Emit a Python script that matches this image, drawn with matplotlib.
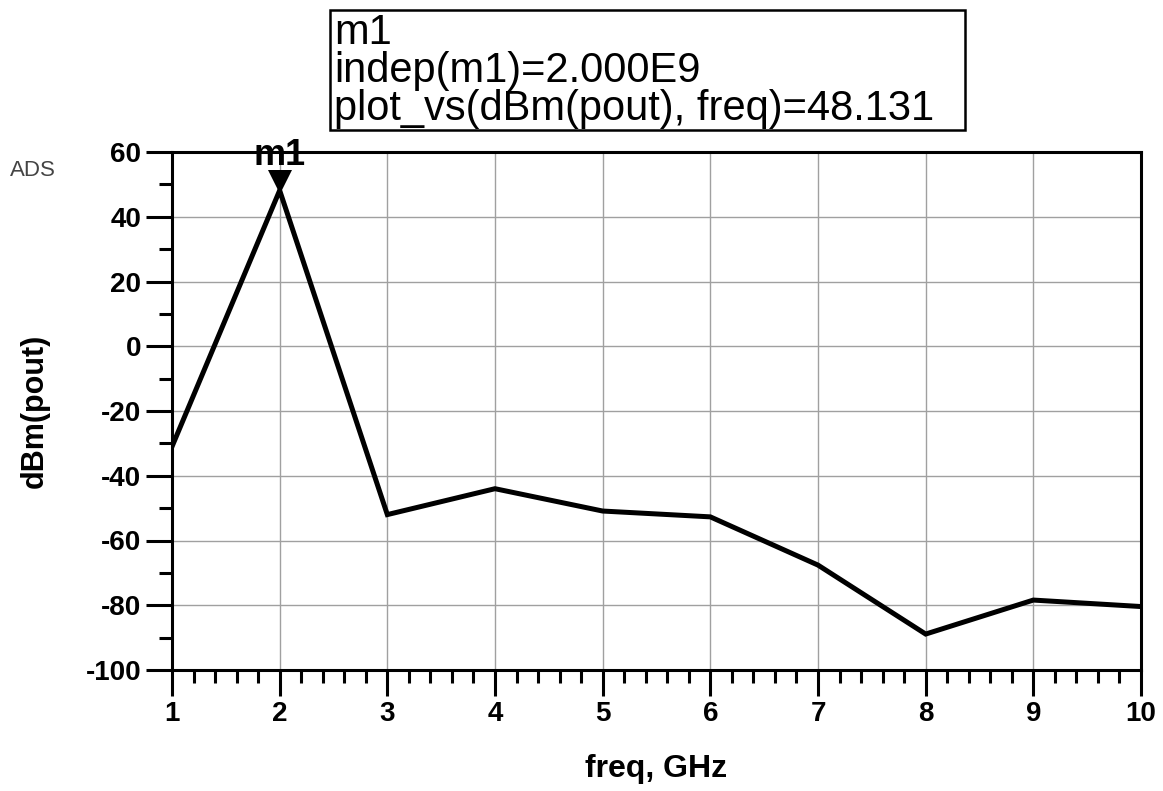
import matplotlib.pyplot as plt
from matplotlib.patches import Rectangle
from matplotlib.ticker import MultipleLocator
from matplotlib.transforms import offset_copy

plt.rcParams['font.family'] = ['Liberation Sans', 'DejaVu Sans']
plt.rcParams['axes.unicode_minus'] = False

# data
freq = [1, 2, 3, 4, 5, 6, 7, 8, 9, 10]
pout_dbm = [-31.0, 48.131, -52.0, -44.0, -50.9, -52.7, -67.6, -88.9, -78.4, -80.4]
marker_freq = 2
marker_val = 48.131
marker_lines = ['m1', 'indep(m1)=2.000E9', 'plot_vs(dBm(pout), freq)=48.131']

W, H = 1163, 791
fig = plt.figure(figsize=(W / 100, H / 100), dpi=100)
ax = fig.add_axes([172 / W, 1 - 670 / H, (1141 - 172) / W, (670 - 152) / H])

ax.plot(freq, pout_dbm, color='black', lw=3.6, solid_joinstyle='miter')
ax.set_xlim(1, 10)
ax.set_ylim(-100, 60)

ax.xaxis.set_major_locator(MultipleLocator(1))
ax.xaxis.set_minor_locator(MultipleLocator(0.2))
ax.yaxis.set_major_locator(MultipleLocator(20))
ax.yaxis.set_minor_locator(MultipleLocator(10))
ax.tick_params(which='major', direction='out', length=19, width=2.2, labelsize=20, pad=3)
ax.tick_params(which='minor', direction='out', length=9.5, width=2.2)
for lab in ax.get_xticklabels() + ax.get_yticklabels():
    lab.set_fontweight('bold')
for s in ax.spines.values():
    s.set_linewidth(2.2)
ax.grid(True, which='major', color='#a0a0a0', lw=1.0)

# marker m1 (tip of the triangle sits on the point)
mk_trans = offset_copy(ax.transData, fig=fig, y=8, units='dots')
ax.plot(marker_freq, marker_val, marker='v', ms=17, color='black', clip_on=False,
        markeredgewidth=0, transform=mk_trans)
ax.annotate('m1', (marker_freq, marker_val), xytext=(0, 18), textcoords='offset points',
            ha='center', va='baseline', fontsize=26, fontweight='bold',
            annotation_clip=False)

ax.set_xlabel('freq, GHz', fontsize=23, fontweight='bold', labelpad=20)
ax.set_ylabel('dBm(pout)', fontsize=22, fontweight='bold', labelpad=26)

fig.text(10 / W, 1 - 170 / H, 'ADS', fontsize=16, color='#444444', ha='left', va='center')

# marker readout box
fig.patches.append(Rectangle((330 / W, 1 - 130 / H), 635 / W, 120 / H,
                             transform=fig.transFigure, fc='white', ec='black', lw=1.8))
fig.text(334 / W, 1 - 13 / H, '\n'.join(marker_lines), fontsize=30, ha='left', va='top',
         linespacing=0.94)

fig.savefig('out.png', dpi=100)
